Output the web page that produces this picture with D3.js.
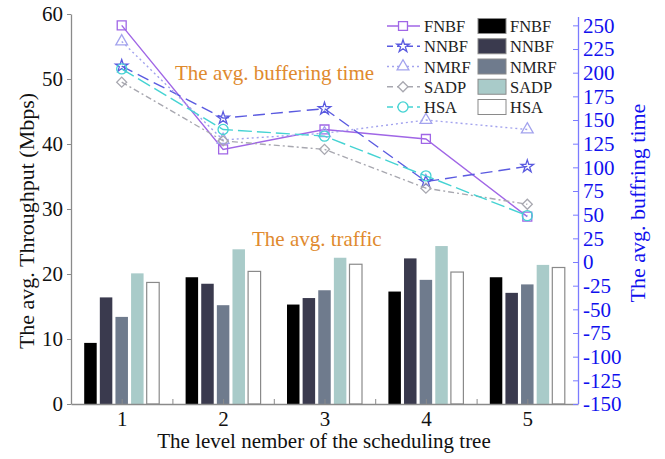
<!DOCTYPE html>
<html>
<head>
<meta charset="utf-8">
<script src="https://cdn.jsdelivr.net/npm/d3@7"></script>
<style>
  body { margin: 0; background: #fff; }
  svg text { font-family: "Liberation Serif", "Times New Roman", serif !important; }
</style>
</head>
<body>
<script>
// data
var levels = [1, 2, 3, 4, 5];
var methods = ["FNBF", "NNBF", "NMRF", "SADP", "HSA"];

// avg. traffic (left axis, Mbps)
var trafficFNBF = [9.4, 19.5, 15.3, 17.3, 19.5];
var trafficNNBF = [16.4, 18.5, 16.3, 22.4, 17.1];
var trafficNMRF = [13.4, 15.2, 17.5, 19.1, 18.4];
var trafficSADP = [20.1, 23.8, 22.5, 24.3, 21.4];
var trafficHSA  = [18.7, 20.4, 21.5, 20.3, 21.0];

// avg. buffering time (right axis)
var bufFNBF = [250, 119, 140, 130, 48];
var bufNNBF = [207, 152, 162, 85, 101];
var bufNMRF = [233, 129, 136, 150, 140];
var bufSADP = [190, 128, 119, 78, 61];
var bufHSA  = [204, 140, 133, 91, 49];

var leftTicks = [0, 10, 20, 30, 40, 50, 60];
var rightTicks = [-150, -125, -100, -75, -50, -25, 0, 25, 50, 75, 100, 125, 150, 175, 200, 225, 250];

var traffic = [trafficFNBF, trafficNNBF, trafficNMRF, trafficSADP, trafficHSA];
var buffering = [bufFNBF, bufNNBF, bufNMRF, bufSADP, bufHSA];

var barColors = ["#000000", "#3a3a4e", "#6f7b8d", "#a9cbc9", "#ffffff"];
var lineStyles = [
  { color: "#a066e6", dash: null, sym: d3.symbolSquare, size: 80, rot: 0 },
  { color: "#5a5ae0", dash: "12,6", sym: d3.symbolStar, size: 48, rot: 0 },
  { color: "#a3a3ee", dash: "2,3", sym: d3.symbolTriangle, size: 60, rot: 0 },
  { color: "#a8a8b0", dash: "6,3,2,3", sym: d3.symbolSquare, size: 50, rot: 45 },
  { color: "#45d3d3", dash: "14,5", sym: d3.symbolCircle, size: 80, rot: 0 }
];

var W = 665, H = 459;
var svg = d3.select("body").append("svg")
    .attr("width", W)
    .attr("height", H);

var x = d3.scaleLinear().domain([0.5, 5.5]).range([71, 578]);
var yL = d3.scaleLinear().domain([0, 60]).range([404, 14]);
var yR = d3.scaleLinear().domain([-150, 262]).range([404, 14]);
var xIn = d3.scaleBand().domain(methods).range([-37.5, 37.5]).paddingInner(0.2);

// bars
for (var s = 0; s < methods.length; s++) {
  svg.append("g").selectAll("rect")
    .data(traffic[s])
    .enter().append("rect")
    .attr("x", function(d, i) { return x(levels[i]) + xIn(methods[s]); })
    .attr("y", function(d) { return yL(d); })
    .attr("width", xIn.bandwidth())
    .attr("height", function(d) { return yL(0) - yL(d); })
    .style("fill", barColors[s])
    .style("stroke", s == 4 ? "#8a8a8a" : "none")
    .style("stroke-width", 1.2);
}

// bottom axis
var xAxis = d3.axisBottom(x)
    .tickValues([0.5, 1, 1.5, 2, 2.5, 3, 3.5, 4, 4.5, 5, 5.5])
    .tickSizeInner(-5).tickSizeOuter(0)
    .tickFormat(function(d) { return d % 1 == 0 ? d : ""; });
var gx = svg.append("g").attr("transform", "translate(0,404)").call(xAxis)
    .attr("font-family", null).attr("font-size", null);
gx.select(".domain").style("stroke", "#8a8a8a").style("stroke-width", 1.3);
gx.selectAll(".tick line").style("stroke", "#8a8a8a");
gx.selectAll("text").attr("y", 7).style("font-size", "21px").style("fill", "#111");

// left axis
var yAxisL = d3.axisLeft(yL).tickValues(leftTicks).tickSizeInner(4).tickSizeOuter(0).tickPadding(4);
var gl = svg.append("g").attr("transform", "translate(71,0)").call(yAxisL)
    .attr("font-family", null).attr("font-size", null);
gl.select(".domain").style("stroke", "#8a8a8a").style("stroke-width", 1.3);
gl.selectAll(".tick line").style("stroke", "#8a8a8a");
gl.selectAll("text").style("font-size", "21px").style("fill", "#111");

// right axis
var yAxisR = d3.axisRight(yR).tickValues(rightTicks).tickSizeInner(-5).tickSizeOuter(0).tickPadding(5)
    .tickFormat(function(d) { return d < 0 ? "-" + Math.abs(d) : "" + d; });
var gr = svg.append("g").attr("transform", "translate(578,0)").call(yAxisR)
    .attr("font-family", null).attr("font-size", null);
gr.select(".domain").attr("d", "M0.5,17V404").style("stroke", "#7b7bff").style("stroke-width", 1.3);
gr.selectAll(".tick line").style("stroke", "#7b7bff");
gr.selectAll("text").style("font-size", "21px").style("fill", "#1010ee");

// lines
var line = d3.line()
    .x(function(d, i) { return x(levels[i]); })
    .y(function(d) { return yR(d); });

for (var s = 0; s < methods.length; s++) {
  var st = lineStyles[s];
  svg.append("path")
    .attr("d", line(buffering[s]))
    .style("fill", "none")
    .style("stroke", st.color)
    .style("stroke-width", 1.4)
    .style("stroke-dasharray", st.dash);
  svg.append("g").selectAll("path")
    .data(buffering[s])
    .enter().append("path")
    .attr("d", d3.symbol().type(st.sym).size(st.size))
    .attr("transform", function(d, i) {
      return "translate(" + x(levels[i]) + "," + yR(d) + ") rotate(" + st.rot + ")";
    })
    .style("fill", "none")
    .style("stroke", st.color)
    .style("stroke-width", 1.3);
}

// legend (lines)
var legY = d3.scaleLinear().domain([0, 4]).range([26, 107]);
for (var s = 0; s < methods.length; s++) {
  var st = lineStyles[s];
  var yy = legY(s);
  svg.append("line")
    .attr("x1", 387).attr("x2", 420).attr("y1", yy).attr("y2", yy)
    .style("stroke", st.color).style("stroke-width", 1.4)
    .style("stroke-dasharray", st.dash ? (s == 2 ? "2,3" : "6,4") : null);
  svg.append("path")
    .attr("d", d3.symbol().type(st.sym).size(st.size))
    .attr("transform", "translate(403," + yy + ") rotate(" + st.rot + ")")
    .style("fill", "#fff").style("stroke", st.color).style("stroke-width", 1.3);
  svg.append("text")
    .attr("x", 424).attr("y", yy + 6)
    .text(methods[s])
    .style("font-size", "16.5px").style("fill", "#222");

  // legend (bars)
  svg.append("rect")
    .attr("x", 478).attr("y", yy - 7.5).attr("width", 28).attr("height", 15)
    .style("fill", barColors[s]).style("stroke", "#8a8a8a").style("stroke-width", 1);
  svg.append("text")
    .attr("x", 510).attr("y", yy + 6)
    .text(methods[s])
    .style("font-size", "16.5px").style("fill", "#222");
}

// annotations
svg.append("text").attr("x", 175).attr("y", 80)
  .text("The avg. buffering time")
  .style("font-size", "21px").style("fill", "#e08a2e");
svg.append("text").attr("x", 252).attr("y", 246)
  .text("The avg. traffic")
  .style("font-size", "21px").style("fill", "#e08a2e");

// axis titles
svg.append("text")
  .attr("x", 324).attr("y", 448)
  .attr("text-anchor", "middle")
  .text("The level nember of the scheduling tree")
  .style("font-size", "21px").style("fill", "#111");

svg.append("text")
  .attr("transform", "translate(34,221) rotate(-90)")
  .attr("text-anchor", "middle")
  .text("The avg. Throughput (Mbps)")
  .style("font-size", "22px").style("fill", "#111");

svg.append("text")
  .attr("transform", "translate(645,203) rotate(-90)")
  .attr("text-anchor", "middle")
  .text("The avg. buffring time")
  .style("font-size", "22px").style("fill", "#1010ee");
</script>
</body>
</html>
